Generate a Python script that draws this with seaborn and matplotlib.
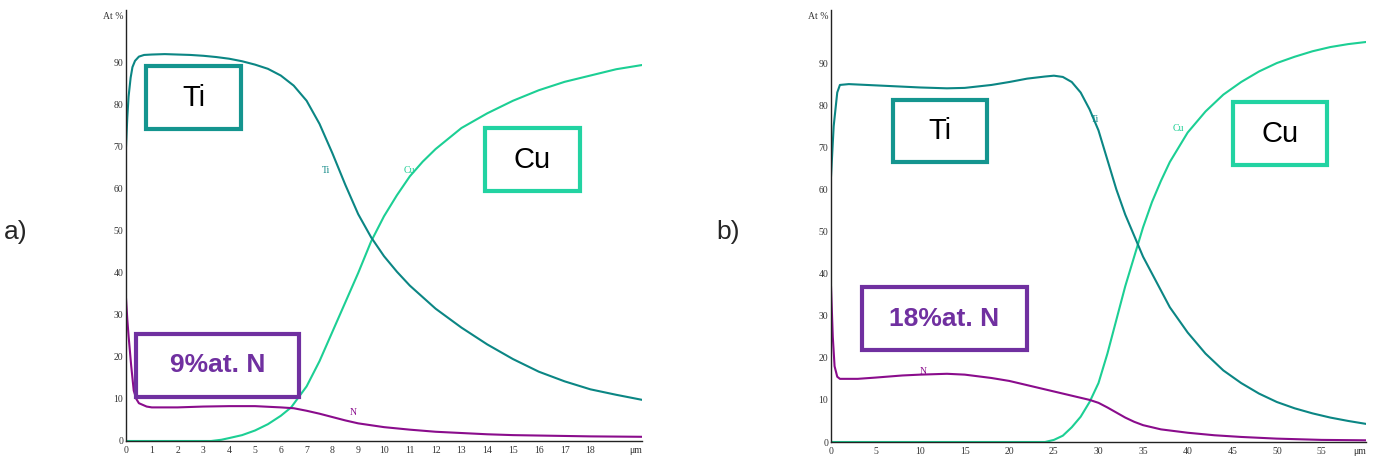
import numpy as np
import pandas as pd
import matplotlib.pyplot as plt
import seaborn as sns
from matplotlib.patches import Rectangle

# profile a) : x in um, at %
a_x = [0, 0.05, 0.1, 0.18, 0.25, 0.35, 0.5, 0.7, 1, 1.5, 2, 2.5, 3, 3.5, 4, 4.5,
       5, 5.5, 6, 6.5, 7, 7.5, 8, 8.5, 9, 9.5, 10, 10.5, 11, 12, 13, 14, 15, 16,
       17, 18, 19, 20]
a_ti = [70, 77, 82, 86.5, 89, 90.5, 91.5, 91.9, 92, 92.1, 92, 91.9, 91.7, 91.4,
        91, 90.4, 89.6, 88.6, 87, 84.6, 81, 75.5, 68.5, 61, 54, 48.5, 44, 40.3,
        37, 31.5, 27, 23, 19.5, 16.5, 14.2, 12.3, 11, 9.8]

a_cu_x = [0, 1, 2, 3, 3.3, 3.7, 4, 4.5, 5, 5.5, 6, 6.4, 7, 7.5, 8, 8.5, 9, 9.5,
          10, 10.5, 11, 11.5, 12, 13, 14, 15, 16, 17, 18, 19, 20]
a_cu = [0, 0, 0, 0, 0, 0.3, 0.7, 1.4, 2.5, 4, 6, 8, 13, 19, 26, 33, 40, 47.5,
        53.5, 58.5, 63, 66.5, 69.5, 74.5, 78, 81, 83.5, 85.5, 87, 88.5, 89.5]

a_n_x = [0, 0.05, 0.1, 0.2, 0.3, 0.4, 0.5, 0.8, 1, 2, 3, 4, 5, 6, 6.5, 7, 7.5,
         8, 8.5, 9, 10, 11, 12, 13, 14, 15, 16, 17, 18, 20]
a_n = [34, 29, 25, 18, 12, 10, 9, 8.2, 8, 8, 8.2, 8.3, 8.3, 8, 7.8, 7.2, 6.5,
       5.7, 4.9, 4.2, 3.3, 2.7, 2.2, 1.9, 1.6, 1.4, 1.3, 1.2, 1.1, 1.0]

# profile b)
b_x = [0, 0.3, 0.7, 1, 2, 5, 10, 13, 15, 18, 20, 22, 24, 25, 26, 27, 28, 29, 30,
       31, 32, 33, 34, 35, 36, 37, 38, 40, 42, 44, 46, 48, 50, 52, 54, 56, 58, 60]
b_ti = [63, 75, 83, 84.8, 85, 84.7, 84.2, 84, 84.1, 84.8, 85.5, 86.3, 86.8, 87,
        86.7, 85.5, 83, 79, 74, 67, 60, 54, 49, 44, 40, 36, 32, 26, 21, 17, 14,
        11.5, 9.5, 8, 6.8, 5.8, 5, 4.3]

b_cu_x = [0, 10, 20, 24, 25, 26, 27, 28, 29, 30, 31, 32, 33, 34, 35, 36, 37, 38,
          39, 40, 42, 44, 46, 48, 50, 52, 54, 56, 58, 60]
b_cu = [0, 0, 0, 0, 0.5, 1.5, 3.5, 6, 9.5, 14, 21, 29, 37, 44, 51, 57, 62, 66.5,
        70, 73.5, 78.5, 82.5, 85.5, 88, 90, 91.5, 92.8, 93.8, 94.5, 95]

b_n_x = [0, 0.2, 0.4, 0.7, 1, 3, 5, 8, 10, 13, 15, 18, 20, 22, 24, 26, 28, 29,
         30, 31, 32, 33, 34, 35, 37, 40, 43, 46, 50, 55, 60]
b_n = [37, 25, 18, 15.5, 15, 15, 15.3, 15.8, 16, 16.2, 16, 15.2, 14.5, 13.5,
       12.5, 11.5, 10.5, 10, 9.3, 8.2, 7, 5.8, 4.8, 4, 3, 2.2, 1.6, 1.2, 0.8,
       0.5, 0.4]

y_ticks = [0, 10, 20, 30, 40, 50, 60, 70, 80, 90]
a_xticks = list(range(0, 19))
b_xticks = list(range(0, 56, 5))

ti_line = '#0b8684'
cu_line = '#1ccf94'
n_line = '#8a0c8c'
ti_box = '#14958f'
cu_box = '#22d3a2'
n_box = '#7030a0'

sns.set_style('white')
plt.rcParams['font.family'] = ['Liberation Sans', 'DejaVu Sans']

W, H = 1376, 463
fig = plt.figure(figsize=(W / 100, H / 100), dpi=100)


def px_axes(x0, x1, y0, y1):
    return fig.add_axes([x0 / W, 1 - y1 / H, (x1 - x0) / W, (y1 - y0) / H])


def setup(ax, xmax, xticks):
    ax.set_xlim(0, xmax)
    ax.set_ylim(0, 102.6)
    ax.set_xticks(xticks)
    ax.set_yticks(y_ticks)
    sns.despine(ax=ax)
    for s in ['left', 'bottom']:
        ax.spines[s].set_color('#222222')
        ax.spines[s].set_linewidth(1.0)
    ax.tick_params(axis='x', direction='inout', length=5, width=0.8, pad=1,
                   labelsize=7, labelcolor='#333333', color='#222222')
    ax.tick_params(axis='y', direction='out', length=2, width=0.8, pad=0,
                   labelsize=7, labelcolor='#333333', color='#222222')
    for lab in ax.get_xticklabels() + ax.get_yticklabels():
        lab.set_family('Liberation Serif')
    ax.set_xlabel('')
    ax.set_ylabel('')
    ax.text(-0.005, 0.985, 'At %', transform=ax.transAxes, ha='right', va='center',
            fontsize=7, family='Liberation Serif', color='#333333')
    ax.text(1.0, -0.022, 'μm', transform=ax.transAxes, ha='right', va='center',
            fontsize=7, family='Liberation Serif', color='#333333')


def box(x0, x1, y0, y1, color, text, bold=False, size=21):
    fig.patches.append(Rectangle((x0 / W, 1 - y1 / H), (x1 - x0) / W, (y1 - y0) / H,
                                 transform=fig.transFigure, fill=False,
                                 edgecolor=color, linewidth=3))
    fig.text((x0 + x1) / 2 / W, 1 - (y0 + y1) / 2 / H, text, ha='center', va='center',
             fontsize=size, color=color if bold else 'black',
             fontweight='bold' if bold else 'normal')


# panel a
ax1 = px_axes(126, 642, 10, 441)
sns.lineplot(x=a_cu_x, y=a_cu, ax=ax1, color=cu_line, lw=1.5, estimator=None, sort=False)
sns.lineplot(x=a_n_x, y=a_n, ax=ax1, color=n_line, lw=1.5, estimator=None, sort=False)
sns.lineplot(x=a_x, y=a_ti, ax=ax1, color=ti_line, lw=1.5, estimator=None, sort=False)
setup(ax1, 20, a_xticks)
ax1.text(7.75, 64.5, 'Ti', fontsize=7, color=ti_line, family='Liberation Serif', ha='center', va='center')
ax1.text(11.0, 64.5, 'Cu', fontsize=7, color=cu_line, family='Liberation Serif', ha='center', va='center')
ax1.text(8.8, 6.8, 'N', fontsize=7, color=n_line, family='Liberation Serif', ha='center', va='center')

# panel b
ax2 = px_axes(831, 1366, 10, 442)
sns.lineplot(x=b_cu_x, y=b_cu, ax=ax2, color=cu_line, lw=1.5, estimator=None, sort=False)
sns.lineplot(x=b_n_x, y=b_n, ax=ax2, color=n_line, lw=1.5, estimator=None, sort=False)
sns.lineplot(x=b_x, y=b_ti, ax=ax2, color=ti_line, lw=1.5, estimator=None, sort=False)
setup(ax2, 60, b_xticks)
ax2.text(29.6, 76.5, 'Ti', fontsize=7, color=ti_line, family='Liberation Serif', ha='center', va='center')
ax2.text(39.0, 74.5, 'Cu', fontsize=7, color=cu_line, family='Liberation Serif', ha='center', va='center')
ax2.text(10.3, 16.8, 'N', fontsize=7, color=n_line, family='Liberation Serif', ha='center', va='center')

# boxes and panel letters
box(146, 241, 66, 129, ti_box, 'Ti')
box(485, 580, 128, 191, cu_box, 'Cu')
box(136, 299, 334, 397, n_box, '9%at. N', bold=True, size=19)
box(893, 987, 100, 162, ti_box, 'Ti')
box(1233, 1327, 102, 165, cu_box, 'Cu')
box(862, 1027, 287, 350, n_box, '18%at. N', bold=True, size=19)

fig.text(16 / W, 1 - 232 / H, 'a)', fontsize=19, ha='center', va='center')
fig.text(728 / W, 1 - 232 / H, 'b)', fontsize=19, ha='center', va='center')

fig.savefig('out.png', dpi=100)
